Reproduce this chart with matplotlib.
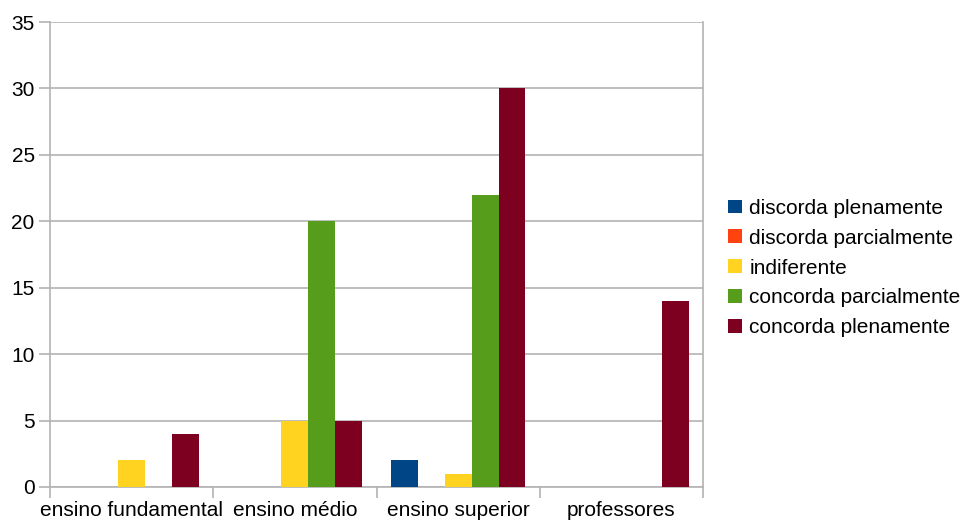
import matplotlib
matplotlib.use("Agg")
import matplotlib.pyplot as plt
import numpy as np
from matplotlib.patches import Patch

categories = ["ensino fundamental", "ensino médio", "ensino superior", "professores"]
series_names = ["discorda plenamente", "discorda parcialmente", "indiferente",
                "concorda parcialmente", "concorda plenamente"]
discorda_plenamente = [0, 0, 2, 0]
discorda_parcialmente = [0, 0, 0, 0]
indiferente = [2, 5, 1, 0]
concorda_parcialmente = [0, 20, 22, 0]
concorda_plenamente = [4, 5, 30, 14]
yticks = [0, 5, 10, 15, 20, 25, 30, 35]

series = [discorda_plenamente, discorda_parcialmente, indiferente,
          concorda_parcialmente, concorda_plenamente]
colors = ["#004586", "#ff420e", "#ffd320", "#579d1c", "#7e0021"]

plt.rcParams['font.family'] = ['Liberation Sans', 'DejaVu Sans']

fig = plt.figure(figsize=(9.67, 5.23), dpi=100)
ax = fig.add_axes([50/967, 36/523, 653/967, 465/523])

x = np.arange(len(categories))
w = 0.165
for i, (vals, c) in enumerate(zip(series, colors)):
    ax.bar(x + (i - 2) * w, vals, width=w, color=c, zorder=3, linewidth=0)

grid_c = "#b3b3b3"
ax.set_xlim(-0.5, 3.5)
ax.set_ylim(0, 35)
ax.set_yticks(yticks)
ax.yaxis.grid(True, color=grid_c, linewidth=1.2, zorder=0)
ax.set_xticks(np.arange(-0.5, 3.6, 1.0))
ax.set_xticklabels([])
ax.set_xticks(x, minor=True)
ax.set_xticklabels(categories, minor=True)
ax.tick_params(axis='x', which='minor', length=0, pad=10, labelsize=15)
ax.tick_params(axis='x', which='major', length=8, width=1.2, color=grid_c)
ax.tick_params(axis='y', length=8, width=1.2, color=grid_c, labelsize=15, pad=3)
for s in ['left', 'right', 'bottom']:
    ax.spines[s].set_color(grid_c)
    ax.spines[s].set_linewidth(1.2)
ax.spines['top'].set_visible(False)

handles = [Patch(facecolor=c, edgecolor='none') for c in colors]
fig.legend(handles, series_names, loc='center left', bbox_to_anchor=(720/967, 1 - 268/523),
           frameon=False, fontsize=15, handlelength=0.65, handleheight=0.65,
           handletextpad=0.35, labelspacing=0.52, borderaxespad=0)

fig.savefig("out.png", dpi=100)
